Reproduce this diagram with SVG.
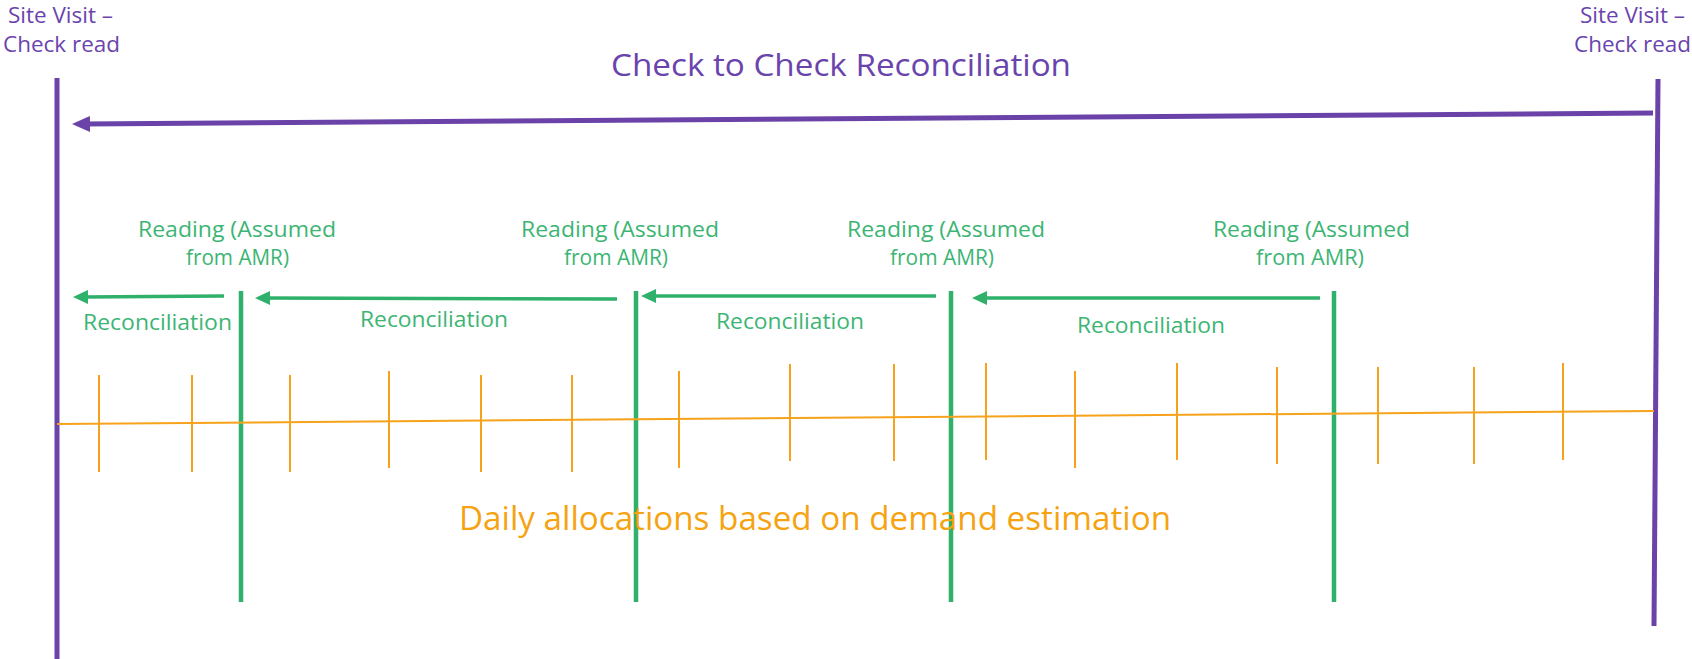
<svg xmlns="http://www.w3.org/2000/svg" width="1692" height="659" viewBox="0 0 1692 659">
<defs>
<style>
.purple{stroke:#6a42a8;stroke-width:5;fill:none;stroke-linecap:butt}
.green{stroke:#2fb06b;stroke-width:4.5;fill:none}
.garrow{stroke:#2fb06b;stroke-width:3.5;fill:none}
.orange{stroke:#f7a21b;stroke-width:2;fill:none}
.tick{stroke:#f7a21b;stroke-width:2;fill:none}
text{font-family:"Open Sans","Liberation Sans",sans-serif}
.ptext{fill:#6a44ad}
.gtext{fill:#3cb574;font-size:21px}
.otext{fill:#f6a312;font-size:32px}
</style>
<marker id="pa" viewBox="0 0 18 16" markerWidth="18" markerHeight="16" refX="6" refY="8" markerUnits="userSpaceOnUse" orient="auto">
<path d="M0,0 L18,8 L0,16 z" fill="#6a42a8"/>
</marker>
<marker id="ga" viewBox="0 0 15 14" markerWidth="15" markerHeight="14" refX="5" refY="7" markerUnits="userSpaceOnUse" orient="auto">
<path d="M0,0 L15,7 L0,14 z" fill="#2fb06b"/>
</marker>
</defs>
<rect width="1692" height="659" fill="#ffffff"/>

<g id="site-visit-left">
<line class="purple" x1="57" y1="78" x2="57" y2="659"/>
<text class="ptext" x="8" y="23" font-size="21" textLength="105" lengthAdjust="spacingAndGlyphs">Site Visit –</text>
<text class="ptext" x="3" y="52" font-size="21" textLength="117" lengthAdjust="spacingAndGlyphs">Check read</text>
</g>

<g id="site-visit-right">
<line class="purple" x1="1658" y1="79" x2="1654" y2="626"/>
<text class="ptext" x="1580" y="23" font-size="21" textLength="105" lengthAdjust="spacingAndGlyphs">Site Visit –</text>
<text class="ptext" x="1574" y="52" font-size="21" textLength="117" lengthAdjust="spacingAndGlyphs">Check read</text>
</g>

<g id="title">
<text class="ptext" x="611" y="76" font-size="31" textLength="460" lengthAdjust="spacingAndGlyphs">Check to Check Reconciliation</text>
</g>

<g id="reading-1">
<line class="green" x1="241" y1="291" x2="241" y2="602"/>
<text class="gtext" x="138" y="237" textLength="198" lengthAdjust="spacingAndGlyphs">Reading (Assumed</text>
<text class="gtext" x="186" y="265" textLength="103" lengthAdjust="spacingAndGlyphs">from AMR)</text>
</g>
<g id="reading-2">
<line class="green" x1="636" y1="291" x2="636" y2="602"/>
<text class="gtext" x="521" y="237" textLength="198" lengthAdjust="spacingAndGlyphs">Reading (Assumed</text>
<text class="gtext" x="564" y="265" textLength="104" lengthAdjust="spacingAndGlyphs">from AMR)</text>
</g>
<g id="reading-3">
<line class="green" x1="951" y1="291" x2="951" y2="602"/>
<text class="gtext" x="847" y="237" textLength="198" lengthAdjust="spacingAndGlyphs">Reading (Assumed</text>
<text class="gtext" x="890" y="265" textLength="104" lengthAdjust="spacingAndGlyphs">from AMR)</text>
</g>
<g id="reading-4">
<line class="green" x1="1334" y1="291" x2="1334" y2="602"/>
<text class="gtext" x="1213" y="237" textLength="197" lengthAdjust="spacingAndGlyphs">Reading (Assumed</text>
<text class="gtext" x="1256" y="265" textLength="108" lengthAdjust="spacingAndGlyphs">from AMR)</text>
</g>

<g id="daily-allocations">
<line class="orange" x1="57" y1="424" x2="1654" y2="411"/>
<line class="tick" x1="99" y1="375" x2="99" y2="472"/>
<line class="tick" x1="192" y1="375" x2="192" y2="472"/>
<line class="tick" x1="290" y1="375" x2="290" y2="472"/>
<line class="tick" x1="389" y1="371" x2="389" y2="468"/>
<line class="tick" x1="481" y1="375" x2="481" y2="472"/>
<line class="tick" x1="572" y1="375" x2="572" y2="472"/>
<line class="tick" x1="679" y1="371" x2="679" y2="468"/>
<line class="tick" x1="790" y1="364" x2="790" y2="461"/>
<line class="tick" x1="894" y1="364" x2="894" y2="461"/>
<line class="tick" x1="986" y1="363" x2="986" y2="460"/>
<line class="tick" x1="1075" y1="371" x2="1075" y2="468"/>
<line class="tick" x1="1177" y1="363" x2="1177" y2="460"/>
<line class="tick" x1="1277" y1="367" x2="1277" y2="464"/>
<line class="tick" x1="1378" y1="367" x2="1378" y2="464"/>
<line class="tick" x1="1474" y1="367" x2="1474" y2="464"/>
<line class="tick" x1="1563" y1="363" x2="1563" y2="460"/>
<text class="otext" x="459" y="530" textLength="712" lengthAdjust="spacingAndGlyphs">Daily allocations based on demand estimation</text>
</g>

<g id="connectors">
<line class="purple" x1="1653" y1="113" x2="84" y2="124" marker-end="url(#pa)"/>
<line class="garrow" x1="224" y1="296" x2="83" y2="297" marker-end="url(#ga)"/>
<line class="garrow" x1="617" y1="299" x2="265" y2="298" marker-end="url(#ga)"/>
<line class="garrow" x1="936" y1="296" x2="651" y2="296" marker-end="url(#ga)"/>
<line class="garrow" x1="1320" y1="298" x2="982" y2="298" marker-end="url(#ga)"/>
<text class="gtext" x="83" y="330" textLength="149" lengthAdjust="spacingAndGlyphs">Reconciliation</text>
<text class="gtext" x="360" y="327" textLength="148" lengthAdjust="spacingAndGlyphs">Reconciliation</text>
<text class="gtext" x="716" y="329" textLength="148" lengthAdjust="spacingAndGlyphs">Reconciliation</text>
<text class="gtext" x="1077" y="333" textLength="148" lengthAdjust="spacingAndGlyphs">Reconciliation</text>
</g>
</svg>
